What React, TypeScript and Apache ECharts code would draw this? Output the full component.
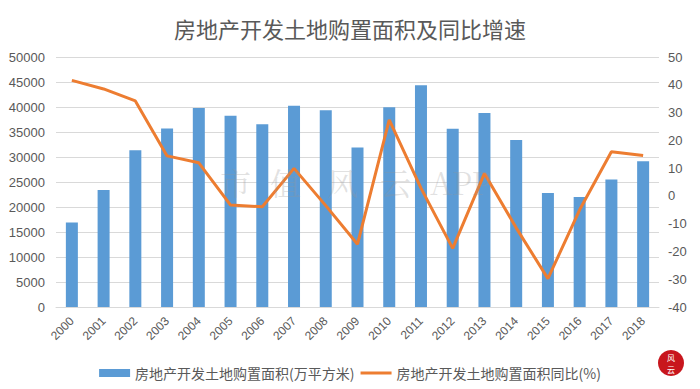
import React, { useEffect, useRef } from "react";
import * as echarts from "echarts";

const years = ["2000","2001","2002","2003","2004","2005","2006","2007","2008","2009","2010","2011","2012","2013","2014","2015","2016","2017","2018"];
const areaValues = [16905, 23409, 31357, 35697, 39785, 38254, 36574, 40246, 39353, 31910, 39953, 44327, 35667, 38814, 33383, 22811, 22025, 25508, 29142];
const growthValues = [41.6, 38.5, 34.2, 14.4, 11.9, -3.3, -3.9, 9.9, -3.5, -17.4, 27.4, 2.8, -18.9, 8.1, -11.5, -29.8, -5.0, 15.9, 14.5];
const titleText = "房地产开发土地购置面积及同比增速";
const barName = "房地产开发土地购置面积(万平方米)";
const lineName = "房地产开发土地购置面积同比(%)";
const watermarkParts = ["市", "值", "风", "云", "APP"];
const watermarkX = [220, 270, 327, 380, 430];

const FONT = "'Noto Sans CJK SC', 'Liberation Sans', sans-serif";
const NUM_FONT = "'Liberation Sans', sans-serif";
const GRAY = "#595959";

export default function App() {
  const ref = useRef<HTMLDivElement>(null);
  useEffect(() => {
    document.body.style.margin = "0";
    const chart = echarts.init(ref.current!, null, { renderer: "svg" });
    const wm = watermarkParts.map((t, i) => ({
      type: "text",
      left: watermarkX[i],
      top: 166,
      z: 10,
      silent: true,
      style: {
        text: t,
        fontSize: 31,
        fontFamily: "'Noto Serif CJK SC', 'Noto Sans CJK SC', serif",
        fill: "rgba(150,150,150,0.28)",
      },
    }));
    chart.setOption({
      animation: false,
      backgroundColor: "#ffffff",
      title: {
        text: titleText,
        left: "center",
        top: 12,
        textStyle: { fontSize: 22, fontWeight: "normal", color: GRAY, fontFamily: FONT },
      },
      grid: { left: 56, right: 41, top: 57, bottom: 82 },
      legend: {
        top: 361,
        left: "center",
        itemWidth: 31,
        itemHeight: 8,
        itemGap: 6,
        textStyle: { fontSize: 14, color: GRAY, fontFamily: FONT },
        data: [
          { name: barName, icon: "rect" },
          { name: lineName, icon: "path://M0,0 L31,0 L31,3 L0,3 Z", itemStyle: { color: "#ED7D31" } },
        ],
      },
      xAxis: {
        type: "category",
        data: years,
        axisLine: { show: true, lineStyle: { color: "#d9d9d9" } },
        axisTick: { show: false },
        axisLabel: { rotate: 45, interval: 0, fontSize: 12, color: GRAY, margin: 12, fontFamily: NUM_FONT },
      },
      yAxis: [
        {
          type: "value",
          min: 0,
          max: 50000,
          interval: 5000,
          axisLine: { show: false },
          axisTick: { show: false },
          axisLabel: { fontSize: 13, color: GRAY, margin: 11, fontFamily: NUM_FONT, formatter: (v: number) => String(v) },
          splitLine: { lineStyle: { color: "#d9d9d9" } },
        },
        {
          type: "value",
          min: -40,
          max: 50,
          interval: 10,
          axisLine: { show: false },
          axisTick: { show: false },
          axisLabel: { fontSize: 13, color: GRAY, margin: 9, fontFamily: NUM_FONT, formatter: (v: number) => String(v) },
          splitLine: { show: false },
        },
      ],
      series: [
        {
          name: barName,
          type: "bar",
          data: areaValues,
          barWidth: 12,
          itemStyle: { color: "#5B9BD5" },
        },
        {
          name: lineName,
          type: "line",
          yAxisIndex: 1,
          data: growthValues,
          symbol: "none",
          lineStyle: { color: "#ED7D31", width: 3 },
          itemStyle: { color: "#ED7D31" },
          z: 5,
        },
      ],
      graphic: [
        ...wm,
        {
          type: "circle",
          shape: { cx: 671, cy: 363, r: 13 },
          style: { fill: "#C8161D" },
          z: 10,
        },
        {
          type: "text",
          x: 671,
          y: 357,
          z: 11,
          style: { text: "风", fontSize: 8, align: "center", verticalAlign: "middle", fill: "#ffffff", fontFamily: FONT },
        },
        {
          type: "text",
          x: 671,
          y: 369,
          z: 11,
          style: { text: "云", fontSize: 8, align: "center", verticalAlign: "middle", fill: "#ffffff", fontFamily: FONT },
        },
      ],
    });
    return () => chart.dispose();
  }, []);
  return <div ref={ref} style={{ width: 700, height: 389 }} />;
}
